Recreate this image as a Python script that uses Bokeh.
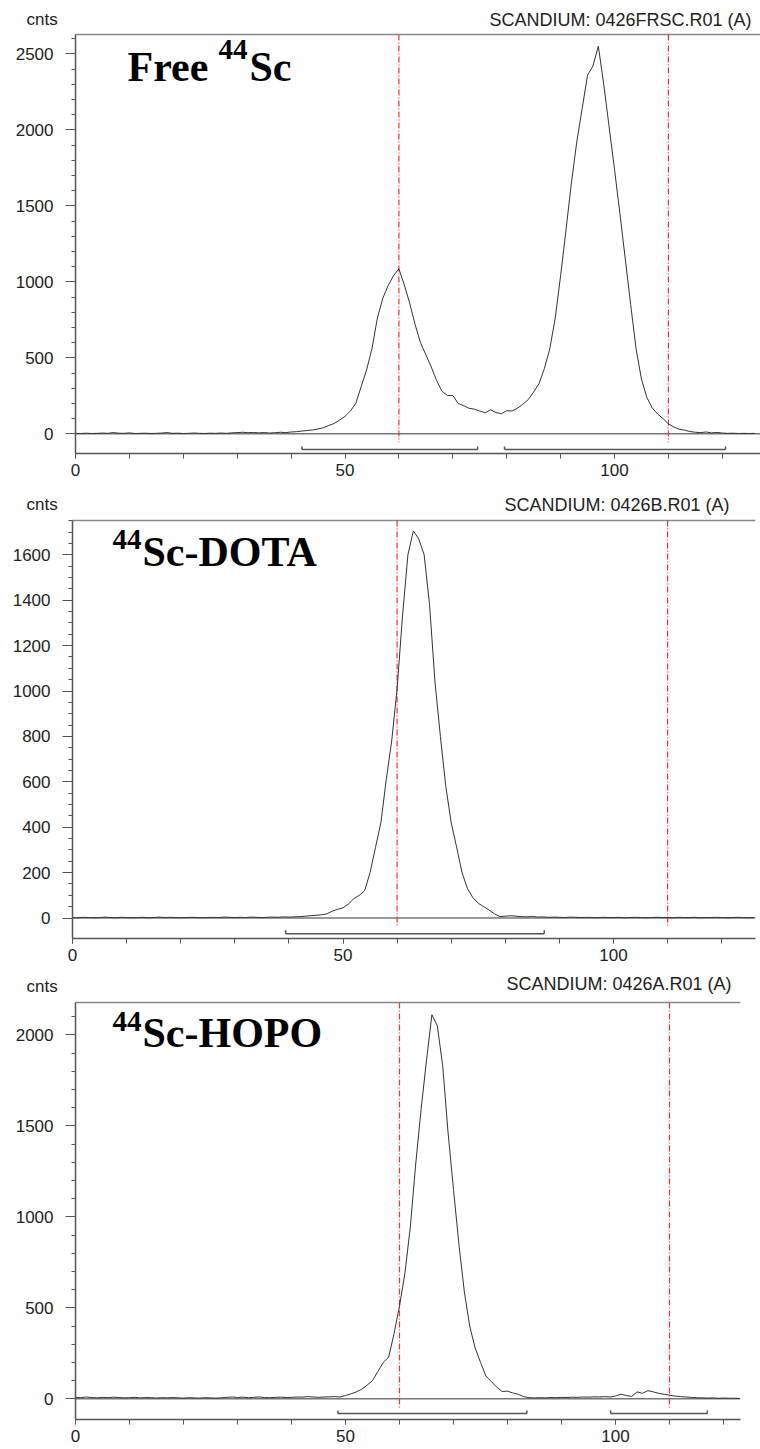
from bokeh.plotting import figure
from bokeh.models import Range1d, FixedTicker, Label
from bokeh.layouts import column
from bokeh.embed import file_html
from bokeh.resources import INLINE

# ---------------- data ----------------
p1_x = list(range(0, 127))
p1_y = [3, 2, 4, 2, 3, 5, 3, 8, 4, 3,
        6, 2, 3, 4, 2, 3, 5, 8, 3, 4,
        2, 3, 5, 3, 2, 4, 3, 5, 3, 6,
        8, 10, 7, 9, 6, 8, 5, 7, 10, 8,
        12, 14, 18, 22, 25, 32, 40, 55, 68, 90,
        115, 150, 200, 310, 420, 560, 760, 890, 975, 1040,
        1085, 980, 860, 720, 600, 520, 440, 350, 280, 252,
        252, 200, 185, 168, 162, 150, 138, 158, 140, 132,
        152, 150, 168, 195, 225, 275, 330, 430, 560, 760,
        1040, 1340, 1650, 1920, 2140, 2360, 2420, 2550, 2300, 2020,
        1740, 1450, 1150, 850, 560, 360, 240, 170, 130, 100,
        65, 45, 30, 24, 15, 10, 8, 12, 6, 9,
        5, 3, 4, 2, 3, 2, 3]

p2_x = list(range(0, 127))
p2_y = [2, 1, 3, 2, 1, 2, 4, 2, 1, 3,
        2, 1, 2, 3, 1, 2, 4, 2, 3, 2,
        1, 2, 3, 2, 1, 2, 3, 2, 4, 3,
        2, 3, 2, 4, 3, 2, 3, 4, 3, 5,
        4, 5, 6, 8, 10, 12, 14, 18, 30, 38,
        45, 62, 85, 100, 120, 200, 310, 420, 610, 780,
        1010, 1330, 1600, 1705, 1670, 1600, 1380, 1040, 800, 580,
        420, 312, 200, 130, 90, 65, 50, 35, 18, 6,
        8, 10, 8, 6, 5, 7, 4, 5, 3, 4,
        3, 2, 4, 3, 2, 3, 2, 1, 3, 2,
        2, 3, 1, 2, 3, 2, 1, 2, 3, 2,
        2, 1, 3, 2, 2, 3, 1, 2, 2, 3,
        2, 1, 2, 3, 2, 1, 2]

p3_x = list(range(0, 124))
p3_y = [8, 6, 10, 7, 5, 8, 6, 9, 7, 5,
        6, 8, 5, 7, 6, 4, 6, 5, 7, 5,
        4, 6, 5, 4, 6, 5, 4, 5, 8, 10,
        7, 9, 6, 8, 10, 7, 6, 8, 9, 7,
        8, 10, 9, 12, 10, 8, 10, 11, 12, 10,
        18, 27, 38, 52, 75, 100, 150, 200, 229, 360,
        510, 690, 943, 1290, 1590, 1860, 2110, 2050, 1830, 1460,
        1150, 850, 590, 400, 280, 200, 125, 95, 64, 40,
        42, 32, 25, 12, 6, 5, 6, 5, 7, 6,
        8, 7, 9, 8, 10, 9, 11, 10, 12, 10,
        15, 25, 18, 13, 38, 30, 45, 38, 30, 25,
        20, 15, 12, 10, 8, 6, 5, 4, 5, 3,
        4, 3, 3, 2]

red_x = [60, 110]

p1_br_start = [42.0, 79.6]
p1_br_end = [74.6, 120.6]
p2_br_start = [39.4]
p2_br_end = [87.2]
p3_br_start = [48.6, 99.1]
p3_br_end = [83.6, 117.0]

x_major = [0, 50, 100]
x_minor = list(range(0, 130, 10))
p1_y_major = [0, 500, 1000, 1500, 2000, 2500]
p1_y_minor = list(range(0, 2700, 100))
p2_y_major = [0, 200, 400, 600, 800, 1000, 1200, 1400, 1600]
p2_y_minor = list(range(0, 1751, 50))
p3_y_major = [0, 500, 1000, 1500, 2000]
p3_y_minor = list(range(0, 2200, 100))

titles = ["SCANDIUM: 0426FRSC.R01  (A)", "SCANDIUM: 0426B.R01  (A)", "SCANDIUM: 0426A.R01  (A)"]
names = [("Free", "44", "Sc"), ("", "44", "Sc-DOTA"), ("", "44", "Sc-HOPO")]

SANS = "Liberation Sans"
SERIF = "Liberation Serif"
BASE_FIX = 0.38  # Label baseline correction (fraction of font size)


def build(x, y, x_end, geom, y_major, y_minor, title, hdr, name, name_pos,
          red_bottom, br_start, br_end, br_y, br_h):
    ax_left, ppx, fig_h, frame_h, zero_px, ppy, border_px = geom
    xs, xe = -ax_left / ppx, (760 - ax_left) / ppx
    ye = zero_px / ppy
    ys = -(frame_h - zero_px) / ppy
    y_border = (zero_px - border_px) / ppy

    def dx(px):
        return (px - ax_left) / ppx

    def dy(py):
        return (zero_px - py) / ppy

    p = figure(width=760, height=fig_h,
               x_range=Range1d(xs, xe), y_range=Range1d(ys, ye),
               output_backend="svg", toolbar_location=None,
               min_border_left=0, min_border_right=0,
               min_border_top=0, min_border_bottom=fig_h - frame_h)
    p.outline_line_color = None
    p.xgrid.visible = False
    p.ygrid.visible = False
    p.background_fill_color = "white"
    p.border_fill_color = "white"

    xa, ya = p.xaxis[0], p.yaxis[0]
    for ax in (xa, ya):
        ax.axis_line_color = "#555555"
        ax.axis_line_width = 1.5
        ax.major_tick_line_color = "#555555"
        ax.minor_tick_line_color = "#555555"
        ax.major_tick_in = 0
        ax.minor_tick_in = 0
        ax.major_label_text_font = SANS
        ax.major_label_text_font_size = "17px"
        ax.major_label_text_color = "#222222"
    xa.ticker = FixedTicker(ticks=x_major, minor_ticks=x_minor)
    xa.bounds = (0, x_end)
    xa.major_tick_out = 5
    xa.minor_tick_out = 5
    xa.major_label_standoff = 5
    ya.ticker = FixedTicker(ticks=y_major, minor_ticks=y_minor)
    ya.fixed_location = 0
    ya.bounds = (ys, y_border)
    ya.major_tick_out = 10
    ya.minor_tick_out = 4
    ya.major_label_standoff = 12

    # zero line and top border
    p.segment(x0=[0], y0=[0], x1=[x_end], y1=[0], line_color="#777777", line_width=1.5)
    p.segment(x0=[0], y0=[y_border], x1=[x_end], y1=[y_border],
              line_color="#888888", line_width=1.5)

    # red marker lines
    n_red = len(red_x)
    p.segment(x0=red_x, y0=[y_border] * n_red, x1=red_x, y1=[red_bottom] * n_red,
              line_color="#ff3030", line_width=1.2, line_dash="6 2 1 2")

    # integration brackets
    n = len(br_start)
    p.segment(x0=br_start, y0=[br_y] * n, x1=br_end, y1=[br_y] * n,
              line_color="#555555", line_width=1.5)
    p.segment(x0=br_start, y0=[br_y] * n, x1=br_start, y1=[br_y + br_h] * n,
              line_color="#555555", line_width=1.5)
    p.segment(x0=br_end, y0=[br_y] * n, x1=br_end, y1=[br_y + br_h] * n,
              line_color="#555555", line_width=1.5)

    # trace
    p.line(x, y, line_color="#333333", line_width=1)

    def label(px, py, text, font, size, bold=False, align="left", color="#222222"):
        p.add_layout(Label(x=dx(px), y=dy(py - BASE_FIX * size), text=text,
                           text_font=font, text_font_size=f"{size}px",
                           text_font_style="bold" if bold else "normal",
                           text_color=color, text_baseline="alphabetic",
                           text_align=align))

    cnts_base, title_right, title_base = hdr
    label(26, cnts_base, "cnts", SANS, 17)
    label(title_right, title_base, title, SANS, 18, align="right")

    (w1, w2, w3) = name
    (x1, x2, x3, base, sup_base) = name_pos
    if w1:
        label(x1, base, w1, SERIF, 42, bold=True, color="black")
    label(x2, sup_base, w2, SERIF, 29, bold=True, color="black")
    label(x3, base, w3, SERIF, 42, bold=True, color="black")
    return p


# geom: axis x (px), px per x unit, figure height, frame height, zero y (px),
#       px per count, top border y (px)
f1 = build(p1_x, p1_y, 127.1, (75, 5.39, 486, 453, 433.3, 0.152, 34),
           p1_y_major, p1_y_minor, titles[0], (25, 756, 26), names[0],
           (127, 218, 249, 82, 60), -55, p1_br_start, p1_br_end, -103, 20)
f2 = build(p2_x, p2_y, 126.2, (72, 5.41, 485, 452, 431.5, 0.227, 34),
           p2_y_major, p2_y_minor, titles[1], (24, 734, 25), names[1],
           (0, 112, 142, 81, 64), -37, p2_br_start, p2_br_end, -69, 15)
f3 = build(p3_x, p3_y, 123.1, (75, 5.40, 478, 448, 427.3, 0.182, 31),
           p3_y_major, p3_y_minor, titles[2], (21, 736, 19), names[2],
           (0, 112, 142, 77, 61), -48, p3_br_start, p3_br_end, -81, 17)

layout = column(f1, f2, f3, spacing=0)
open("out.html", "w").write(file_html(layout, INLINE))
